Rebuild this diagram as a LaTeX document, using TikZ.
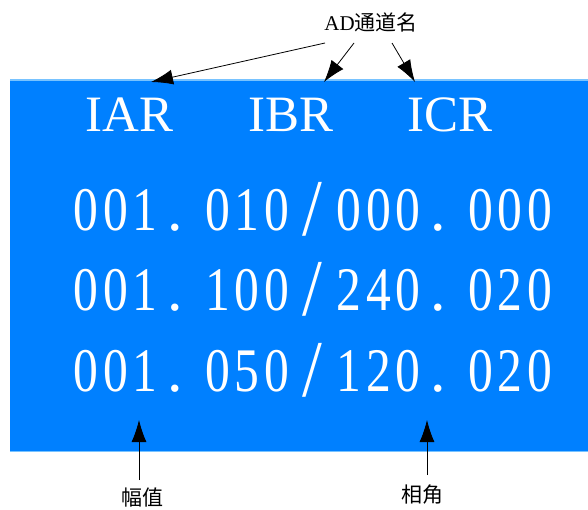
\documentclass[tikz,border=0pt]{standalone}
\usepackage{fontspec}
\setmainfont{Liberation Serif}
\newfontfamily\cjk{Noto Sans CJK SC}
\usetikzlibrary{arrows.meta}
\definecolor{scr}{RGB}{0,128,255}
\definecolor{scredge}{RGB}{120,195,255}
\newcommand\dgc[1]{\makebox[29.5pt][c]{\scalebox{0.8}[1]{#1}}}
\newcommand\ptc{\makebox[43pt][l]{\hspace{8pt}.}}
\newcommand\slc{\makebox[43pt][c]{\raisebox{-5pt}{\scalebox{1.15}[1.3]{/}}}}
\def\numrow#1#2#3.#4#5#6/#7#8#9.{\dgc#1\dgc#2\dgc#3\ptc\dgc#4\dgc#5\dgc#6\slc\dgc#7\dgc#8\dgc#9\ptc\numtail}
\def\numtail#1#2#3{\dgc#1\dgc#2\dgc#3}
\tikzset{
  arr/.style={line width=0.8pt,-{Latex[length=22pt,width=15pt]}},
  lbl/.style={inner sep=0pt,font=\fontsize{21}{25}\selectfont},
  head/.style={inner sep=0pt,text=white,anchor=base,font=\fontsize{51}{56}\selectfont},
  nums/.style={inner sep=0pt,text=white,anchor=base west,font=\fontsize{62}{66}\selectfont},
}
\begin{document}
\begin{tikzpicture}[x=1pt,y=-1pt]
\useasboundingbox (0,0) rectangle (588,510);
\fill[scr] (10,79) rectangle (588,452);
\draw[scredge,line width=2pt] (10,80) -- (588,80);
\draw[scredge,line width=1pt] (10,451.5) -- (588,451.5);
% headers
\node[head] (iar) at (129.5,132) {IAR};
\node[head] (ibr) at (291,132) {IBR};
\node[head] (icr) at (450,132) {ICR};
% numbers
\node[nums] (r1) at (71,231) {\numrow001.010/000.000};
\node[nums] (r2) at (71,310) {\numrow001.100/240.020};
\node[nums] (r3) at (71,391) {\numrow001.050/120.020};
% labels
\node[lbl] (ad) at (371,22) {AD{\cjk 通道名}};
\node[lbl] (fz) at (142,498) {\cjk 幅值};
\node[lbl] (xj) at (422,495) {\cjk 相角};
% arrow points
\coordinate (t1) at (325,43);
\coordinate (t2) at (354,43);
\coordinate (t3) at (392,43);
\coordinate (h1) at (151,82);
\coordinate (h2) at (324,82);
\coordinate (h3) at (415,82);
\coordinate (tf) at (139,480);
\coordinate (hf) at (139,420);
\coordinate (tx) at (427,475);
\coordinate (hx) at (427,420);
\draw[arr] (t1) -- (h1);
\draw[arr] (t2) -- (h2);
\draw[arr] (t3) -- (h3);
\draw[arr] (tf) -- (hf);
\draw[arr] (tx) -- (hx);
\end{tikzpicture}
\end{document}
